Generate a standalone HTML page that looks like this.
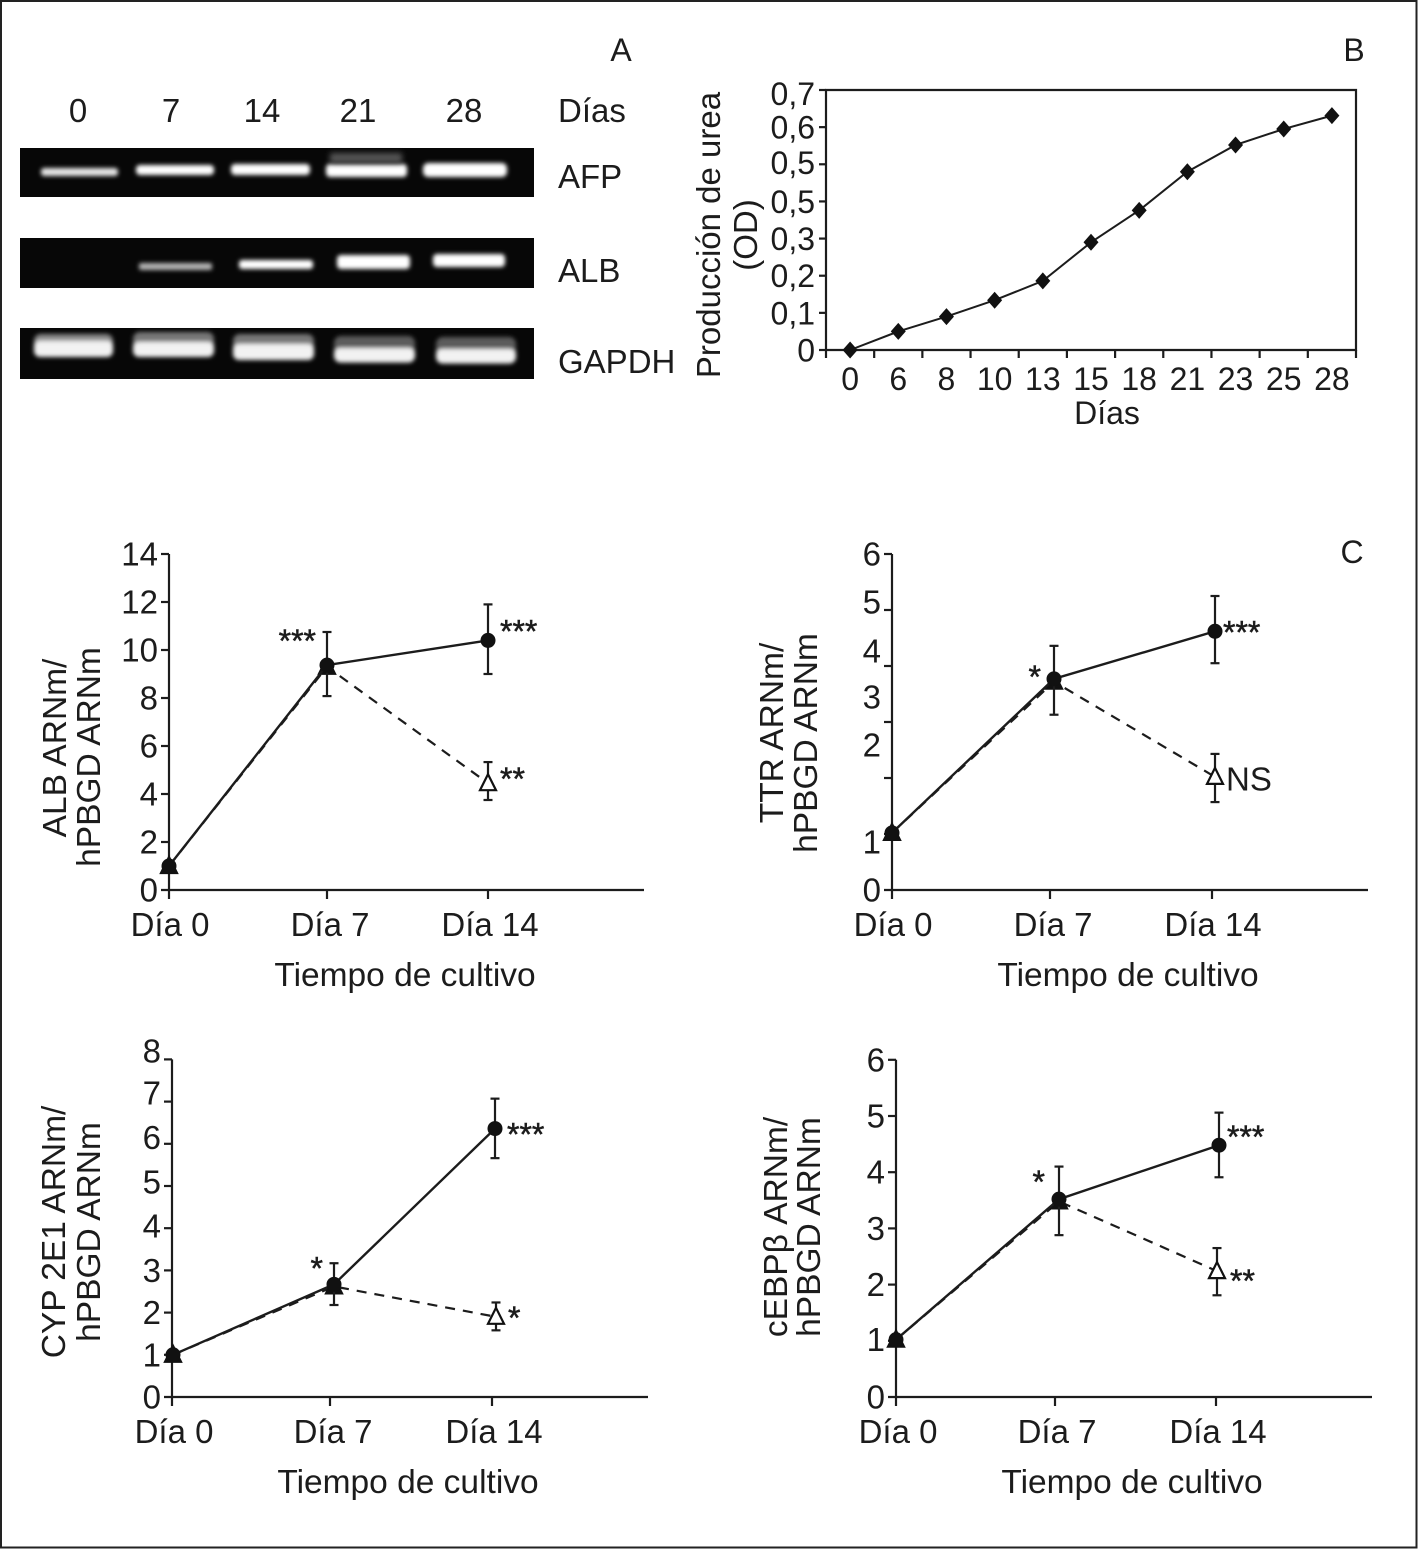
<!DOCTYPE html>
<html lang="es">
<head>
<meta charset="utf-8">
<title>Figura: ARNm y producción de urea</title>
<style>
html,body{margin:0;padding:0;background:#fff;}
svg{display:block;}
text{font-family:"Liberation Sans",sans-serif;fill:#1c1c1c;}
</style>
</head>
<body>
<svg id="figure" xmlns="http://www.w3.org/2000/svg" width="1418" height="1549" viewBox="0 0 1418 1549">
  <defs>
    <filter id="b2" x="-20%" y="-60%" width="140%" height="220%"><feGaussianBlur stdDeviation="2"/></filter>
    <filter id="b4" x="-20%" y="-60%" width="140%" height="220%"><feGaussianBlur stdDeviation="3"/></filter>
  </defs>
  <rect x="0" y="0" width="1418" height="1549" fill="#fff"/>
  <rect x="1" y="1" width="1415.5" height="1546.5" fill="none" stroke="#222" stroke-width="2"/>

  <text x="621" y="61" font-size="32" text-anchor="middle">A</text>
  <text x="1354" y="61" font-size="32" text-anchor="middle">B</text>
  <text x="1352" y="563" font-size="32" text-anchor="middle">C</text>

  <g font-size="33" text-anchor="middle">
    <text x="78" y="122">0</text><text x="171" y="122">7</text><text x="262" y="122">14</text><text x="358" y="122">21</text><text x="464" y="122">28</text>
  </g>
  <text x="558" y="122" font-size="33">Días</text>
  <text x="558" y="188" font-size="33">AFP</text>
  <text x="558" y="282" font-size="33">ALB</text>
  <text x="558" y="373" font-size="33">GAPDH</text>

  <g>
    <rect x="20" y="148" width="514" height="49" fill="#070707"/>
    <g fill="#fff" filter="url(#b2)">
      <rect x="41" y="168" width="77" height="8" rx="3" fill="#e4e4e4"/>
      <rect x="136" y="165" width="78" height="10" rx="4"/>
      <rect x="231" y="164" width="79" height="11" rx="4"/>
      <rect x="326" y="164" width="81" height="13" rx="4"/>
      <rect x="423" y="163" width="84" height="14" rx="5"/>
    </g>
    <rect x="330" y="153" width="72" height="10" fill="#555" filter="url(#b4)"/>
  </g>
  <g>
    <rect x="20" y="238" width="514" height="50" fill="#070707"/>
    <g fill="#fff" filter="url(#b2)">
      <rect x="139" y="263" width="73" height="7" rx="2" fill="#b4b4b4"/>
      <rect x="239" y="260" width="74" height="9" rx="3"/>
      <rect x="337" y="255" width="73" height="14" rx="4"/>
      <rect x="433" y="254" width="72" height="13" rx="4"/>
    </g>
  </g>
  <g>
    <rect x="20" y="328" width="514" height="51" fill="#070707"/>
    <g filter="url(#b2)">
      <rect x="34" y="334" width="79" height="23" rx="7" fill="#8a8a8a"/>
      <rect x="34" y="341" width="79" height="16" rx="6" fill="#f2f2f2"/>
      <rect x="133" y="332" width="81" height="25" rx="7" fill="#777"/>
      <rect x="133" y="342" width="81" height="15" rx="6" fill="#f2f2f2"/>
      <rect x="233" y="334" width="81" height="26" rx="7" fill="#777"/>
      <rect x="233" y="344" width="81" height="16" rx="6" fill="#f2f2f2"/>
      <rect x="334" y="336" width="81" height="27" rx="7" fill="#5c5c5c"/>
      <rect x="334" y="348" width="81" height="14" rx="6" fill="#f2f2f2"/>
      <rect x="436" y="337" width="80" height="27" rx="7" fill="#5c5c5c"/>
      <rect x="436" y="349" width="80" height="14" rx="6" fill="#f2f2f2"/>
    </g>
  </g>
</svg>

<script>
// Panel B: urea production
const ureaDays = ['0','6','8','10','13','15','18','21','23','25','28'];
const ureaValues = [0, 0.05, 0.09, 0.134, 0.186, 0.29, 0.376, 0.48, 0.552, 0.595, 0.631];
const ureaTickValues = [0, 0.1, 0.2, 0.3, 0.4, 0.5, 0.6, 0.7];
const ureaTickLabels = ['0','0,1','0,2','0,3','0,5','0,5','0,6','0,7'];
const ureaLabelValues = [0, 0.1, 0.2, 0.3, 0.4, 0.505, 0.6, 0.69];

// Panels C: time-course categories
const timeCategories = ['Día 0','Día 7','Día 14'];

// ALB
const albTickValues = [0,2,4,6,8,10,12,14];
const albTickLabels = ['0','2','4','6','8','10','12','14'];
const albLabelValues = [0,2,4,6,8,10,12,14];
const albCircle = [1.0, 9.37, 10.4];
const albCircleUpper = [1.0, 10.75, 11.9];
const albCircleLower = [1.0, 8.08, 9.0];
const albTriangle = [1.0, 9.3, 4.45];
const albTriangleUpper = [1.0, 9.3, 5.33];
const albTriangleLower = [1.0, 9.3, 3.75];

// TTR
const ttrTickValues = [0,1,2,3,4,5,6];
const ttrTickLabels = ['0','1','2','3','4','5','6'];
const ttrLabelValues = [0,0.86,2.59,3.45,4.27,5.14,6];
const ttrCircle = [1.02, 3.77, 4.62];
const ttrCircleUpper = [1.02, 4.36, 5.25];
const ttrCircleLower = [1.02, 3.13, 4.05];
const ttrTriangle = [1.02, 3.72, 2.02];
const ttrTriangleUpper = [1.02, 3.72, 2.43];
const ttrTriangleLower = [1.02, 3.72, 1.57];

// CYP 2E1
const cypTickValues = [0,1,2,3,4,5,6,7,8];
const cypTickLabels = ['0','1','2','3','4','5','6','7','8'];
const cypLabelValues = [0,1,2,3,4.05,5.1,6.15,7.2,8.2];
const cypCircle = [1.0, 2.67, 6.36];
const cypCircleUpper = [1.0, 3.17, 7.07];
const cypCircleLower = [1.0, 2.18, 5.66];
const cypTriangle = [1.0, 2.62, 1.9];
const cypTriangleUpper = [1.0, 2.62, 2.24];
const cypTriangleLower = [1.0, 2.62, 1.58];

// cEBPb
const cebpTickValues = [0,1,2,3,4,5,6];
const cebpTickLabels = ['0','1','2','3','4','5','6'];
const cebpLabelValues = [0,1.02,2,3,4,5,6];
const cebpCircle = [1.02, 3.52, 4.48];
const cebpCircleUpper = [1.02, 4.1, 5.06];
const cebpCircleLower = [1.02, 2.88, 3.91];
const cebpTriangle = [1.02, 3.48, 2.24];
const cebpTriangleUpper = [1.02, 3.48, 2.65];
const cebpTriangleLower = [1.02, 3.48, 1.81];

const INK = '#1c1c1c';
const svg = document.getElementById('figure');
const NS = 'http://www.w3.org/2000/svg';

function make(parent, tag, attrs, name) {
  const el = document.createElementNS(NS, tag);
  for (const k in attrs) el.setAttribute(k, attrs[k]);
  
  
  parent.appendChild(el);
  return el;
}
function line(parent, x1, y1, x2, y2, name, extra) {
  return make(parent, 'line', Object.assign({x1, y1, x2, y2, stroke: INK, 'stroke-width': 2.2}, extra || {}), name);
}
function label(parent, x, y, str, size, anchor, name, rot) {
  const attrs = {x, y, 'font-size': size, 'text-anchor': anchor};
  if (rot) attrs.transform = 'rotate(-90 ' + x + ' ' + y + ')';
  const t = make(parent, 'text', attrs, name);
  t.textContent = str;
  return t;
}

function drawUrea() {
  const g = make(svg, 'g', {}, 'urea-chart');
  const left = 826, right = 1356, top = 90, bottom = 350, vmax = 0.7;
  const band = (right - left) / ureaDays.length;
  const x = i => left + (i + 0.5) * band;
  const y = v => bottom - v / vmax * (bottom - top);
  make(g, 'path', {d: 'M' + left + ' ' + top + 'H' + right + 'V' + bottom + 'H' + left + 'Z', fill: 'none', stroke: INK, 'stroke-width': 2.2}, 'urea-plot-frame');
  ureaTickValues.forEach((v, i) => {
    line(g, left - 7, y(v), left, y(v), 'urea-y-tick');
    label(g, 815, y(ureaLabelValues[i]) + 11.5, ureaTickLabels[i], 32, 'end', 'urea-y-tick-label');
  });
  for (let i = 0; i <= ureaDays.length; i++) {
    line(g, left + i * band, bottom, left + i * band, bottom + 8, 'urea-x-tick');
  }
  ureaDays.forEach((d, i) => label(g, x(i), 390, d, 32, 'middle', 'urea-x-tick-label'));
  label(g, 1107, 424, 'Días', 32, 'middle', 'urea-x-axis-title');
  label(g, 720, 235, 'Producción de urea', 33, 'middle', 'urea-y-axis-title', true);
  label(g, 757, 235, '(OD)', 33, 'middle', 'urea-y-axis-subtitle', true);
  make(g, 'polyline', {points: ureaValues.map((v, i) => x(i) + ',' + y(v)).join(' '), fill: 'none', stroke: INK, 'stroke-width': 2}, 'urea-line');
  ureaValues.forEach((v, i) => {
    const px = x(i), py = y(v);
    make(g, 'path', {d: 'M' + px + ' ' + (py - 8.5) + 'L' + (px + 7.5) + ' ' + py + 'L' + px + ' ' + (py + 8.5) + 'L' + (px - 7.5) + ' ' + py + 'Z', fill: '#111'}, 'urea-point');
  });
}

function drawPanel(p) {
  const g = make(svg, 'g', {}, p.id + '-chart');
  const xs = p.xTicks;
  const x = i => xs[i];
  const y = v => p.y0 - v * p.unit;
  const cx = i => x(i) + p.shiftC[i];
  const tx = i => x(i) + p.shiftT[i];

  line(g, xs[0], p.y0 + 1, xs[0], y(p.yMax), p.id + '-y-axis');
  line(g, xs[0] - 8, p.y0, p.xEnd, p.y0, p.id + '-x-axis');
  p.tickValues.forEach((v, i) => {
    if (v !== 0) line(g, xs[0] - 8, y(v), xs[0], y(v), p.id + '-y-tick');
    label(g, xs[0] - 11, y(p.labelValues[i]) + 11.5, p.tickLabels[i], 33, 'end', p.id + '-y-tick-label');
  });
  timeCategories.forEach((c, i) => {
    line(g, x(i), p.y0, x(i), p.y0 + 9, p.id + '-x-tick');
    label(g, p.catLabelX[i], p.y0 + 46, c, 33, 'middle', p.id + '-x-tick-label');
  });
  label(g, p.titleX, p.y0 + 96, 'Tiempo de cultivo', 33.5, 'middle', p.id + '-x-axis-title');
  label(g, p.yTitle[0].x, p.yTitle[0].y, p.yTitle[0].s, 33.5, 'middle', p.id + '-y-axis-title', true);
  label(g, p.yTitle[1].x, p.yTitle[1].y, p.yTitle[1].s, 33.5, 'middle', p.id + '-y-axis-subtitle', true);

  make(g, 'polyline', {points: p.triangle.map((v, i) => tx(i) + ',' + y(v)).join(' '), fill: 'none', stroke: INK, 'stroke-width': 2.2, 'stroke-dasharray': '10 8'}, p.id + '-dashed-line');

  p.triangle.forEach((v, i) => {
    if (p.triangleUpper[i] !== v) {
      line(g, tx(i), y(p.triangleUpper[i]), tx(i), y(p.triangleLower[i]), p.id + '-triangle-error-bar');
      line(g, tx(i) - 4.5, y(p.triangleUpper[i]), tx(i) + 4.5, y(p.triangleUpper[i]), p.id + '-triangle-error-cap');
      line(g, tx(i) - 4.5, y(p.triangleLower[i]), tx(i) + 4.5, y(p.triangleLower[i]), p.id + '-triangle-error-cap');
    }
    const px = tx(i), py = y(v);
    make(g, 'path', {d: 'M' + px + ' ' + (py - 9) + 'L' + (px + 8) + ' ' + (py + 7) + 'L' + (px - 8) + ' ' + (py + 7) + 'Z', fill: i === 2 ? '#fff' : '#111', stroke: '#111', 'stroke-width': 2.2}, p.id + '-triangle-point');
  });
  p.circle.forEach((v, i) => {
    if (p.circleUpper[i] !== v) {
      line(g, cx(i), y(p.circleUpper[i]), cx(i), y(p.circleLower[i]), p.id + '-circle-error-bar');
      line(g, cx(i) - 4.5, y(p.circleUpper[i]), cx(i) + 4.5, y(p.circleUpper[i]), p.id + '-circle-error-cap');
      line(g, cx(i) - 4.5, y(p.circleLower[i]), cx(i) + 4.5, y(p.circleLower[i]), p.id + '-circle-error-cap');
    }
  });
  make(g, 'polyline', {points: p.circle.map((v, i) => cx(i) + ',' + y(v)).join(' '), fill: 'none', stroke: INK, 'stroke-width': 2.4}, p.id + '-solid-line');
  p.circle.forEach((v, i) => make(g, 'circle', {cx: cx(i), cy: y(v), r: 7.5, fill: '#111'}, p.id + '-circle-point'));

  p.notes.forEach(n => {
    const px = n.series === 'c' ? cx(n.i) : tx(n.i);
    const py = y(n.series === 'c' ? p.circle[n.i] : p.triangle[n.i]);
    const isStar = n.text.charAt(0) === '*';
    const t = label(g, px + n.dx, py + n.dy + (isStar ? 15 : 11.5), n.text, isStar ? 32 : 33, n.anchor, p.id + '-significance-label');
    if (isStar) { t.setAttribute('stroke', INK); t.setAttribute('stroke-width', '0.5'); }
  });
}

drawUrea();
drawPanel({
  id: 'alb', y0: 890, unit: 24, yMax: 14, xEnd: 644, xTicks: [169, 327, 488],
  shiftC: [0,0,0], shiftT: [0,0,0], catLabelX: [170, 330, 490], titleX: 405,
  tickValues: albTickValues, tickLabels: albTickLabels, labelValues: albLabelValues,
  circle: albCircle, circleUpper: albCircleUpper, circleLower: albCircleLower,
  triangle: albTriangle, triangleUpper: albTriangleUpper, triangleLower: albTriangleLower,
  yTitle: [{x: 66, y: 748, s: 'ALB ARNm/'}, {x: 100, y: 757, s: 'hPBGD ARNm'}],
  notes: [
    {series: 'c', i: 1, text: '***', dx: -11, dy: -28, anchor: 'end'},
    {series: 'c', i: 2, text: '***', dx: 12, dy: -13, anchor: 'start'},
    {series: 't', i: 2, text: '**', dx: 12, dy: -8, anchor: 'start'}
  ]
});
drawPanel({
  id: 'ttr', y0: 890, unit: 56, yMax: 6, xEnd: 1368, xTicks: [892, 1050, 1212],
  shiftC: [0,4,3], shiftT: [0,4,3], catLabelX: [893, 1053, 1213], titleX: 1128,
  tickValues: ttrTickValues, tickLabels: ttrTickLabels, labelValues: ttrLabelValues,
  circle: ttrCircle, circleUpper: ttrCircleUpper, circleLower: ttrCircleLower,
  triangle: ttrTriangle, triangleUpper: ttrTriangleUpper, triangleLower: ttrTriangleLower,
  yTitle: [{x: 783, y: 733, s: 'TTR ARNm/'}, {x: 817, y: 743, s: 'hPBGD ARNm'}],
  notes: [
    {series: 'c', i: 1, text: '*', dx: -13, dy: -6, anchor: 'end'},
    {series: 'c', i: 2, text: '***', dx: 8, dy: -3, anchor: 'start'},
    {series: 't', i: 2, text: 'NS', dx: 11, dy: 2, anchor: 'start'}
  ]
});
drawPanel({
  id: 'cyp', y0: 1397, unit: 42.2, yMax: 8, xEnd: 648, xTicks: [172, 330, 492],
  shiftC: [1,4,3], shiftT: [1,4,4], catLabelX: [174, 333, 494], titleX: 408,
  tickValues: cypTickValues, tickLabels: cypTickLabels, labelValues: cypLabelValues,
  circle: cypCircle, circleUpper: cypCircleUpper, circleLower: cypCircleLower,
  triangle: cypTriangle, triangleUpper: cypTriangleUpper, triangleLower: cypTriangleLower,
  yTitle: [{x: 65, y: 1232, s: 'CYP 2E1 ARNm/'}, {x: 100, y: 1232, s: 'hPBGD ARNm'}],
  notes: [
    {series: 'c', i: 1, text: '*', dx: -11, dy: -20, anchor: 'end'},
    {series: 'c', i: 2, text: '***', dx: 12, dy: 2, anchor: 'start'},
    {series: 't', i: 2, text: '*', dx: 12, dy: -3, anchor: 'start'}
  ]
});
drawPanel({
  id: 'cebp', y0: 1397, unit: 56.2, yMax: 6, xEnd: 1372, xTicks: [896, 1055, 1216],
  shiftC: [0,4,3], shiftT: [0,4,1], catLabelX: [898, 1057, 1218], titleX: 1132,
  tickValues: cebpTickValues, tickLabels: cebpTickLabels, labelValues: cebpLabelValues,
  circle: cebpCircle, circleUpper: cebpCircleUpper, circleLower: cebpCircleLower,
  triangle: cebpTriangle, triangleUpper: cebpTriangleUpper, triangleLower: cebpTriangleLower,
  yTitle: [{x: 787, y: 1227, s: 'cEBPβ ARNm/'}, {x: 820, y: 1227, s: 'hPBGD ARNm'}],
  notes: [
    {series: 'c', i: 1, text: '*', dx: -14, dy: -21, anchor: 'end'},
    {series: 'c', i: 2, text: '***', dx: 8, dy: -12, anchor: 'start'},
    {series: 't', i: 2, text: '**', dx: 13, dy: 6, anchor: 'start'}
  ]
});
</script>
</body>
</html>
